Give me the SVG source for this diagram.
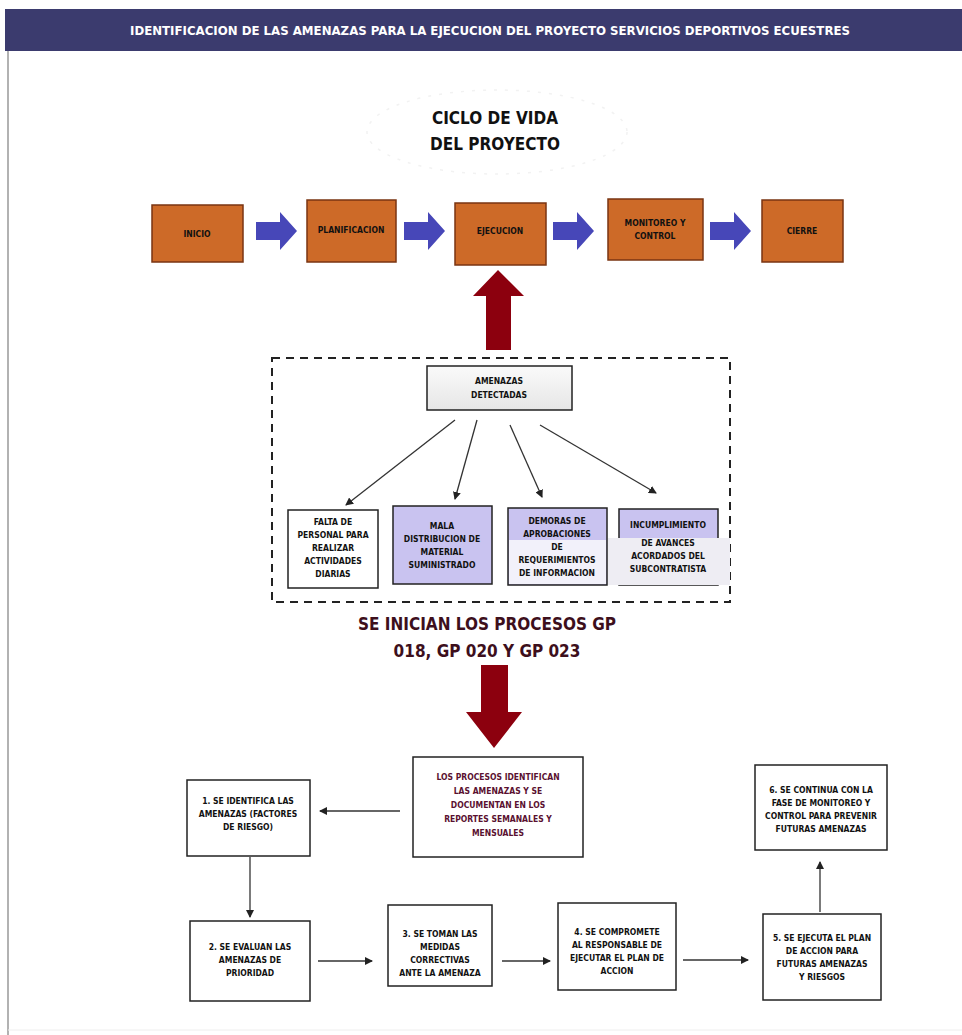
<svg xmlns="http://www.w3.org/2000/svg" width="962" height="1035" viewBox="0 0 962 1035">
<defs>
<style>
.t{font-family:"DejaVu Sans Condensed","Liberation Sans",sans-serif;font-weight:bold;text-anchor:middle}
.s{font-size:8.5px;fill:#111}
.ph{fill:#cd6a28;stroke:#7a3512;stroke-width:1.5}
.bx{fill:#fff;stroke:#222;stroke-width:1.5}
.lav{fill:#c9c3f0;stroke:#222;stroke-width:1.5}
.ln{stroke:#333;stroke-width:1.3;fill:none}
.ba{fill:#4747b8}
.ra{fill:#8c000e}
</style>
<marker id="ah" markerWidth="8" markerHeight="8" refX="7" refY="4" orient="auto" markerUnits="userSpaceOnUse">
<path d="M0,0 L8,4 L0,8 z" fill="#222"/>
</marker>
<linearGradient id="gb" x1="0" y1="0" x2="0" y2="1">
<stop offset="0" stop-color="#fafafa"/><stop offset="1" stop-color="#e6e6e6"/>
</linearGradient>
</defs>
<rect width="962" height="1035" fill="#fff"/>
<g id="title">
<rect x="5" y="9" width="957" height="42" fill="#3b3b6e"/>
<text class="t" x="490" y="35" font-size="13" fill="#fff" textLength="720" lengthAdjust="spacingAndGlyphs">IDENTIFICACION DE LAS AMENAZAS PARA LA EJECUCION DEL PROYECTO SERVICIOS DEPORTIVOS ECUESTRES</text>
</g>
<line x1="8" y1="51" x2="8" y2="1035" stroke="#999" stroke-width="1.5"/>
<line x1="8" y1="1030" x2="962" y2="1030" stroke="#eee" stroke-width="1"/>
<g id="ciclo">
<ellipse cx="497" cy="132" rx="130" ry="42" fill="#fff" stroke="#f2f2f2" stroke-width="1.5" stroke-dasharray="3 8"/>
<text class="t" x="495" y="124" font-size="17" fill="#111">CICLO DE VIDA</text>
<text class="t" x="495" y="150" font-size="17" fill="#111">DEL PROYECTO</text>
</g>
<g id="inicio"><rect class="ph" x="152" y="205" width="91" height="57"/><text class="t s" x="197" y="237">INICIO</text></g>
<g id="planificacion"><rect class="ph" x="307" y="200" width="89" height="62"/><text class="t s" x="351" y="233">PLANIFICACION</text></g>
<g id="ejecucion"><rect class="ph" x="455" y="203" width="91" height="62"/><text class="t s" x="500" y="234">EJECUCION</text></g>
<g id="monitoreo"><rect class="ph" x="608" y="199" width="95" height="61"/><text class="t s" x="655" y="226">MONITOREO Y</text><text class="t s" x="655" y="239">CONTROL</text></g>
<g id="cierre"><rect class="ph" x="762" y="200" width="81" height="62"/><text class="t s" x="802" y="234">CIERRE</text></g>
<g id="flechas">
<path class="ba" d="M256,222 H280 V212 L297,231 L280,250 V240 H256 z"/>
<path class="ba" d="M404,222 H428 V212 L445,231 L428,250 V240 H404 z"/>
<path class="ba" d="M553,222 H577 V212 L594,231 L577,250 V240 H553 z"/>
<path class="ba" d="M710,222 H734 V212 L751,231 L734,250 V240 H710 z"/>
<path class="ra" d="M486,350 V296 H473 L498,270 L524,296 H511 V350 z"/>
<path class="ra" d="M481,665 H508 V712 H522 L494,748 L466,712 H481 z"/>
</g>
<rect x="272" y="358" width="458" height="244" fill="none" stroke="#222" stroke-width="2" stroke-dasharray="8 6"/>
<g id="amenazas"><rect x="427" y="366" width="145" height="44" fill="url(#gb)" stroke="#222" stroke-width="1.5"/><text class="t s" x="499" y="384">AMENAZAS</text><text class="t s" x="499" y="398">DETECTADAS</text></g>
<g id="connectors">
<line class="ln" x1="455" y1="420" x2="346" y2="505" marker-end="url(#ah)"/>
<line class="ln" x1="477" y1="420" x2="455" y2="499" marker-end="url(#ah)"/>
<line class="ln" x1="510" y1="425" x2="542" y2="497" marker-end="url(#ah)"/>
<line class="ln" x1="540" y1="425" x2="656" y2="493" marker-end="url(#ah)"/>
<line class="ln" x1="400" y1="811" x2="320" y2="811" marker-end="url(#ah)"/>
<line class="ln" x1="250" y1="857" x2="250" y2="917" marker-end="url(#ah)"/>
<line class="ln" x1="318" y1="961" x2="372" y2="961" marker-end="url(#ah)"/>
<line class="ln" x1="502" y1="961" x2="550" y2="961" marker-end="url(#ah)"/>
<line class="ln" x1="683" y1="960" x2="748" y2="960" marker-end="url(#ah)"/>
<line class="ln" x1="820" y1="912" x2="820" y2="862" marker-end="url(#ah)"/>
</g>
<g id="a1"><rect class="bx" x="288" y="510" width="90" height="78"/>
<text class="t s" x="333" y="525">FALTA DE</text><text class="t s" x="333" y="538">PERSONAL PARA</text><text class="t s" x="333" y="551">REALIZAR</text><text class="t s" x="333" y="564">ACTIVIDADES</text><text class="t s" x="333" y="577">DIARIAS</text></g>
<g id="a2"><rect class="lav" x="393" y="506" width="99" height="78"/>
<text class="t s" x="442" y="529">MALA</text><text class="t s" x="442" y="542">DISTRIBUCION DE</text><text class="t s" x="442" y="555">MATERIAL</text><text class="t s" x="442" y="568">SUMINISTRADO</text></g>
<g id="a3"><rect class="lav" x="508" y="508" width="99" height="77"/>
<rect x="509" y="540" width="97" height="44" fill="#f2f1fa"/>
<text class="t s" x="557" y="524">DEMORAS DE</text><text class="t s" x="557" y="537">APROBACIONES</text><text class="t s" x="557" y="550">DE</text><text class="t s" x="557" y="563">REQUERIMIENTOS</text><text class="t s" x="557" y="576">DE INFORMACION</text></g>
<g id="a4"><rect class="lav" x="619" y="509" width="99" height="76"/>
<rect x="608" y="538" width="122" height="47" fill="#eeedf3"/>
<text class="t s" x="668" y="528">INCUMPLIMIENTO</text><text class="t s" x="668" y="546">DE AVANCES</text><text class="t s" x="668" y="559">ACORDADOS DEL</text><text class="t s" x="668" y="572">SUBCONTRATISTA</text></g>
<g id="procesos">
<text class="t" x="487" y="630" font-size="17" fill="#3d0f1c">SE INICIAN LOS PROCESOS GP</text>
<text class="t" x="487" y="657" font-size="17" fill="#3d0f1c">018, GP 020 Y GP 023</text></g>
<g id="b0"><rect class="bx" x="413" y="757" width="170" height="100" stroke="#555"/>
<text class="t s" x="498" y="780" fill="#5a1030" style="fill:#5a1030">LOS PROCESOS IDENTIFICAN</text><text class="t s" x="498" y="794" style="fill:#5a1030">LAS AMENAZAS Y SE</text><text class="t s" x="498" y="808" style="fill:#5a1030">DOCUMENTAN EN LOS</text><text class="t s" x="498" y="822" style="fill:#5a1030">REPORTES SEMANALES Y</text><text class="t s" x="498" y="836" style="fill:#5a1030">MENSUALES</text></g>
<g id="b1"><rect class="bx" x="187" y="780" width="123" height="76"/>
<text class="t s" x="248" y="804">1. SE IDENTIFICA LAS</text><text class="t s" x="248" y="817">AMENAZAS (FACTORES</text><text class="t s" x="248" y="830">DE RIESGO)</text></g>
<g id="b2"><rect class="bx" x="190" y="921" width="120" height="80"/>
<text class="t s" x="250" y="950">2. SE EVALUAN LAS</text><text class="t s" x="250" y="963">AMENAZAS DE</text><text class="t s" x="250" y="976">PRIORIDAD</text></g>
<g id="b3"><rect class="bx" x="388" y="905" width="104" height="81"/>
<text class="t s" x="440" y="937">3. SE TOMAN LAS</text><text class="t s" x="440" y="950">MEDIDAS</text><text class="t s" x="440" y="963">CORRECTIVAS</text><text class="t s" x="440" y="976">ANTE LA AMENAZA</text></g>
<g id="b4"><rect class="bx" x="558" y="903" width="118" height="87"/>
<text class="t s" x="617" y="935">4. SE COMPROMETE</text><text class="t s" x="617" y="948">AL RESPONSABLE DE</text><text class="t s" x="617" y="961">EJECUTAR EL PLAN DE</text><text class="t s" x="617" y="974">ACCION</text></g>
<g id="b5"><rect class="bx" x="763" y="914" width="118" height="86"/>
<text class="t s" x="822" y="941">5. SE EJECUTA EL PLAN</text><text class="t s" x="822" y="954">DE ACCION PARA</text><text class="t s" x="822" y="967">FUTURAS AMENAZAS</text><text class="t s" x="822" y="980">Y RIESGOS</text></g>
<g id="b6"><rect class="bx" x="755" y="765" width="132" height="85"/>
<text class="t s" x="821" y="793">6. SE CONTINUA CON LA</text><text class="t s" x="821" y="806">FASE DE MONITOREO Y</text><text class="t s" x="821" y="819">CONTROL PARA PREVENIR</text><text class="t s" x="821" y="832">FUTURAS AMENAZAS</text></g>
</svg>
